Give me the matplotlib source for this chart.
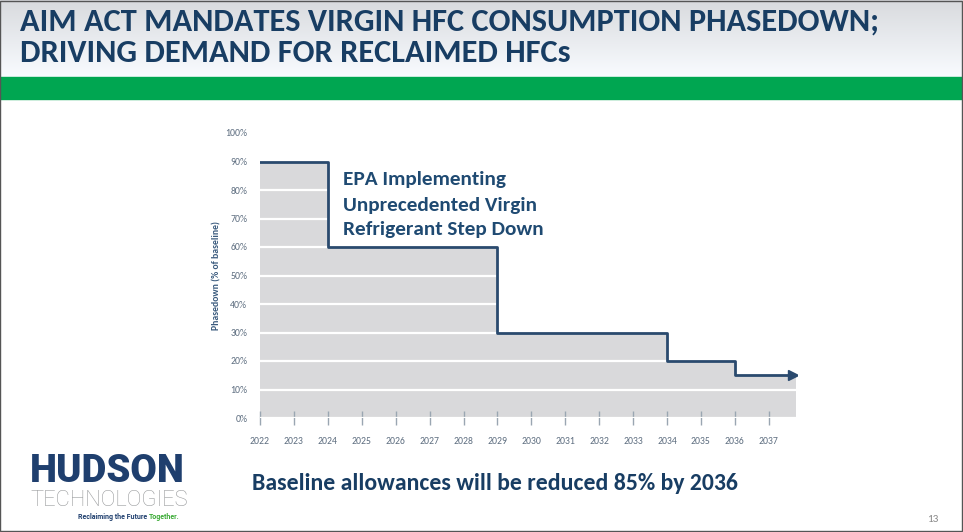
import numpy as np
import matplotlib
matplotlib.use("Agg")
import matplotlib.pyplot as plt
from matplotlib import font_manager
from matplotlib.patches import Rectangle

# --- data -------------------------------------------------------------------
step_years = [2022, 2024, 2029, 2034, 2036, 2037.8]
step_levels = [90, 60, 30, 20, 15, 15]
year_ticks = list(range(2022, 2038))
pct_ticks = [0, 10, 20, 30, 40, 50, 60, 70, 80, 90, 100]
pct_labels = [f"{p}%" for p in pct_ticks]

title_lines = ["AIM ACT MANDATES VIRGIN HFC CONSUMPTION PHASEDOWN;",
               "DRIVING DEMAND FOR RECLAIMED HFCs"]
callout = ["EPA Implementing", "Unprecedented Virgin", "Refrigerant Step Down"]
footer = "Baseline allowances will be reduced 85% by 2036"


def first_font(prefs):
    names = {f.name for f in font_manager.fontManager.ttflist}
    for p in prefs:
        if p in names:
            return p
    return "DejaVu Sans"


narrow = first_font(["Carlito", "Roboto Condensed", "Open Sans Condensed",
                     "Liberation Sans Narrow", "Fira Sans Condensed", "PT Sans Narrow",
                     "Saira SemiCondensed", "Lato"])
body = first_font(["Carlito", "Lato", "Open Sans"])

NAVY = "#183d63"
GREY_FILL = "#d9d9db"
W, H = 963, 532

fig = plt.figure(figsize=(W / 100, H / 100), dpi=100)
renderer = fig.canvas.get_renderer()


def fit_text(x, y, s, width_px, **kw):
    # scale font size so the string spans width_px pixels
    t = fig.text(x / W, 1 - y / H, s, **kw)
    w = t.get_window_extent(renderer).width
    t.set_fontsize(t.get_fontsize() * width_px / w)
    return t


# header background (light sky gradient)
hdr = fig.add_axes([0, 1 - 77 / H, 1, 77 / H])
grad = np.linspace(0.87, 1.0, 100).reshape(-1, 1)
hdr.imshow(np.dstack([grad * 0.975, grad * 0.985, grad]), aspect="auto",
           extent=[0, 1, 0, 1], origin="upper")
hdr.axis("off")

# green band
fig.patches.append(Rectangle((0, 1 - 99 / H), 1, 22 / H, transform=fig.transFigure,
                             color="#00a651", zorder=1))
# slide border
fig.patches.append(Rectangle((0.0005, 0.001), 0.998, 0.998, transform=fig.transFigure,
                             fill=False, ec="#555555", lw=1, zorder=5))

t1 = fit_text(20, 22, title_lines[0], 860, family=narrow, weight="bold", fontsize=20,
              color=NAVY, va="center", ha="left")
fig.text(20 / W, 1 - 53 / H, title_lines[1], family=narrow, weight="bold",
         fontsize=t1.get_fontsize(), color=NAVY, va="center", ha="left")

# --- chart ------------------------------------------------------------------
ax = fig.add_axes([260 / W, 1 - 418 / H, (797 - 260) / W, (418 - 133) / H])
ax.fill_between(step_years, step_levels, 0, step="post", color=GREY_FILL, lw=0, zorder=1)
ax.step(step_years, step_levels, where="post", color="#2a4a6e", lw=2, zorder=3)
ax.plot(step_years[-1] - 0.1, step_levels[-1], marker=">", ms=7, color="#2a4a6e", zorder=4)

ax.set_xlim(2022, 2037.83)
ax.set_ylim(0, 100)
ax.set_yticks(pct_ticks)
ax.set_yticklabels(pct_labels)
ax.set_xticks(year_ticks)
ax.set_xticklabels([str(y) for y in year_ticks])
ax.grid(axis="y", color="white", lw=1.6)
ax.set_axisbelow(False)
for s in ax.spines.values():
    s.set_visible(False)
ax.tick_params(axis="y", length=0, pad=9, labelsize=7, labelcolor="#5e6e80")
ax.tick_params(axis="x", direction="inout", length=10, width=1, color="#9aa6b2",
               pad=9, labelsize=7, labelcolor="#5e6e80")
for lab in ax.get_xticklabels() + ax.get_yticklabels():
    lab.set_family(narrow)
ax.set_ylabel("Phasedown (% of baseline)", fontsize=7, weight="bold",
              color="#3b5b7e", labelpad=3, family=narrow)

c2 = fit_text(343, 205, callout[1], 195, family=body, weight="bold", fontsize=13,
              color="#1f4a72", va="center", ha="left")
for i in (0, 2):
    fig.text(343 / W, 1 - (180 + i * 25) / H, callout[i], family=body, weight="bold",
             fontsize=c2.get_fontsize(), color="#1f4a72", va="center", ha="left")

fit_text(252, 483, footer, 486, family=body, weight="bold", fontsize=15,
         color=NAVY, va="center", ha="left")

# logo
fit_text(30, 472, "HUDSON", 155, family="Roboto", weight="heavy", fontsize=26,
         color="#1f3f6e", va="center", ha="left")
fit_text(30, 500, "TECHNOLOGIES", 158, family="Roboto", weight="light", fontsize=15,
         color="#9a9c9e", va="center", ha="left")
tag = fit_text(78, 517, "Reclaiming the Future ", 72, family="Roboto", weight="bold",
               fontsize=4.5, color="#1f3f6e", va="center", ha="left")
tag_end = tag.get_window_extent(renderer).x1
fig.text(tag_end / W, 1 - 517 / H, "Together.", family="Roboto", weight="bold",
         fontsize=tag.get_fontsize(), color="#3aaa35", va="center", ha="left")

fig.text(927 / W, 1 - 520 / H, "13", family=narrow, fontsize=8, color="#888888",
         va="center", ha="left")

fig.savefig("out.png", dpi=100)
